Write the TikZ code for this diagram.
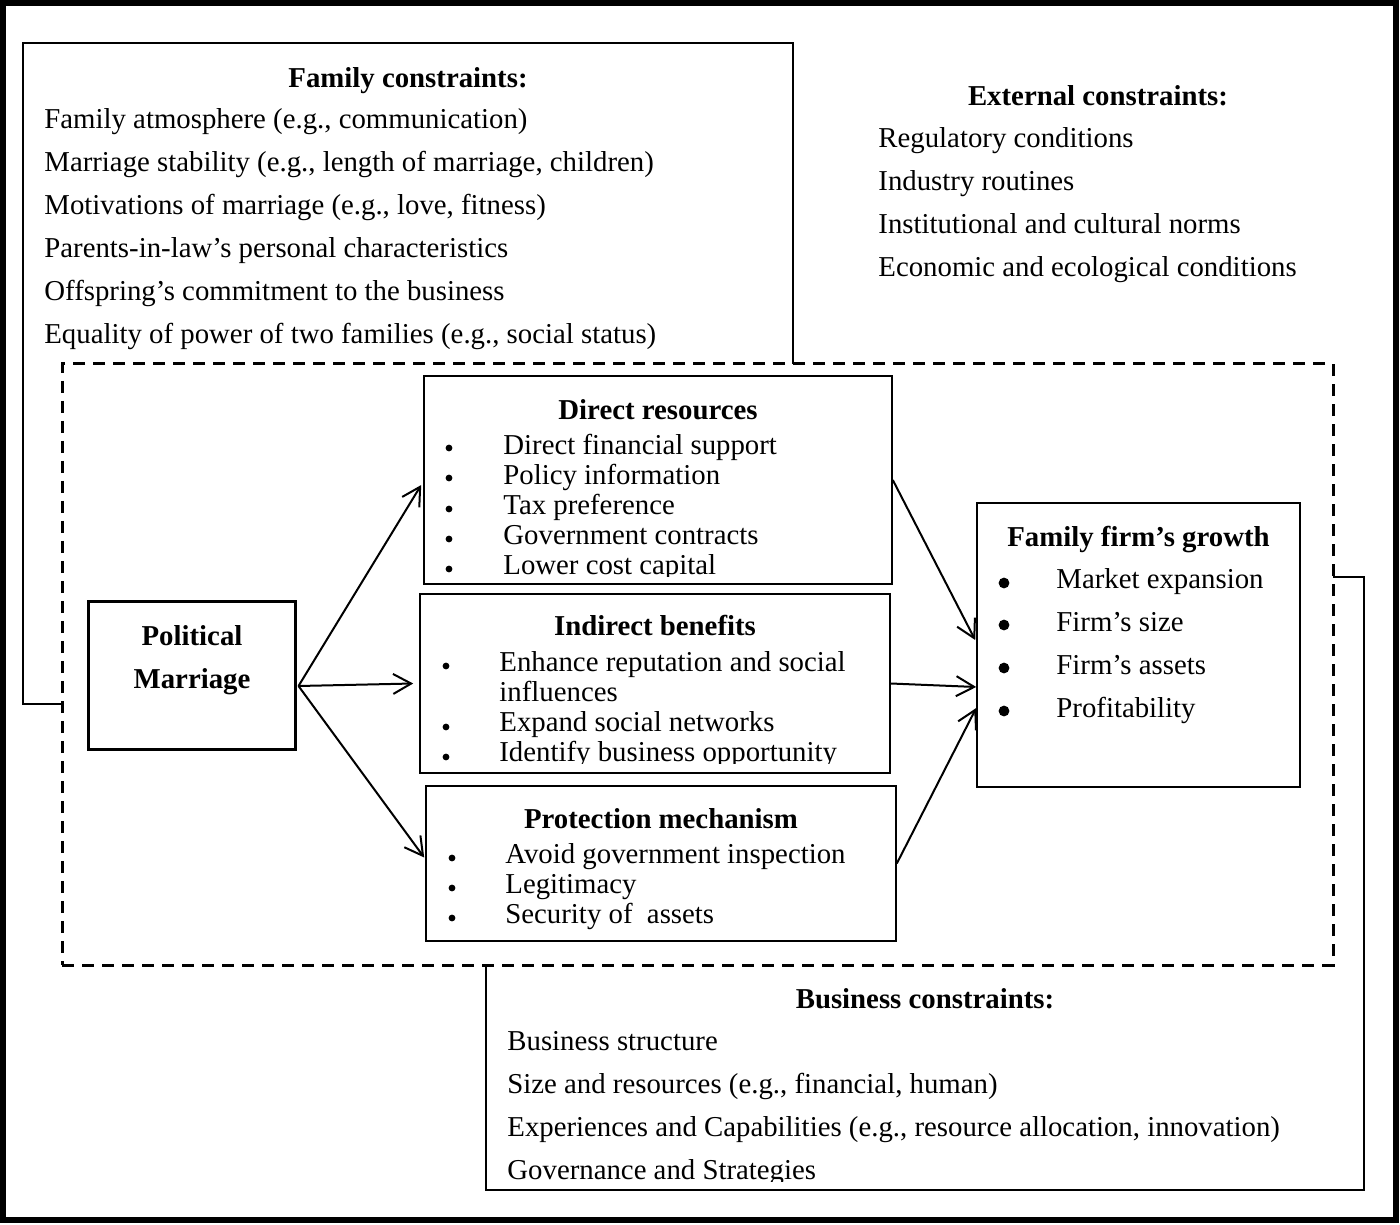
\documentclass[tikz,border=0pt]{standalone}
\usepackage{fontspec}
\setmainfont{Liberation Serif}
\usetikzlibrary{arrows.meta,calc}
\begin{document}
\begin{tikzpicture}[x=0.5pt,y=-0.5pt,
  txt/.style={inner sep=0pt, font=\fontsize{14.4pt}{15pt}\selectfont},
  ttl/.style={inner sep=0pt, font=\fontsize{14.4pt}{15pt}\selectfont\bfseries},
  thinbox/.style={draw, line width=0.8pt, rectangle, inner sep=0pt},
  arr/.style={line width=1pt, -{Straight Barb[length=9pt,width=10pt]}},
  bul/.style={circle, fill, inner sep=0pt, minimum size=3.4pt},
  bigbul/.style={circle, fill, inner sep=0pt, minimum size=5.4pt},
]
\useasboundingbox (0,0) rectangle (1400,1224);
\draw[line width=3pt] (3,3) rectangle (1396,1220);

% outer constraint boxes
\node[thinbox, minimum width=385pt, minimum height=330.5pt] (fam) at (408,373.5) {};
\node[thinbox, minimum width=439pt, minimum height=306.5pt] (bus) at (925,883.5) {};
% dashed frame
\node[draw, fill=white, line width=1.5pt, dash pattern=on 6pt off 4pt, rectangle, inner sep=0pt,
      minimum width=635.5pt, minimum height=300.5pt] (dash) at (697.5,664.5) {};

% Family constraints text
\node[ttl, anchor=base] (famt) at (408,88) {Family constraints:};
\node[txt, anchor=base west] (f1) at (44,129) {Family atmosphere (e.g., communication)};
\node[txt, anchor=base west] (f2) at (44,172) {Marriage stability (e.g., length of marriage, children)};
\node[txt, anchor=base west] (f3) at (44,215) {Motivations of marriage (e.g., love, fitness)};
\node[txt, anchor=base west] (f4) at (44,258) {Parents-in-law’s personal characteristics};
\node[txt, anchor=base west] (f5) at (44,301) {Offspring’s commitment to the business};
\node[txt, anchor=base west] (f6) at (44,344) {Equality of power of two families (e.g., social status)};

% External constraints
\node[ttl, anchor=base] (extt) at (1098,106) {External constraints:};
\node[txt, anchor=base west] (e1) at (878,148) {Regulatory conditions};
\node[txt, anchor=base west] (e2) at (878,191) {Industry routines};
\node[txt, anchor=base west] (e3) at (878,234) {Institutional and cultural norms};
\node[txt, anchor=base west] (e4) at (878,277) {Economic and ecological conditions};

% Business constraints
\node[ttl, anchor=base] (bust) at (925,1008) {Business constraints:};
\node[txt, anchor=base west] (u1) at (507,1050) {Business structure};
\node[txt, anchor=base west] (u2) at (507,1093) {Size and resources (e.g., financial, human)};
\node[txt, anchor=base west] (u3) at (507,1136) {Experiences and Capabilities (e.g., resource allocation, innovation)};
\begin{scope}
\clip (486,1150) rectangle (1364,1181);
\node[txt, anchor=base west] (u4) at (507,1179) {Governance and Strategies};
\end{scope}

% Political marriage
\node[draw, line width=1.5pt, rectangle, inner sep=0pt, minimum width=103.5pt, minimum height=74pt] (pm) at (191.5,675) {};
\node[ttl, anchor=base] (pm1) at (192,645) {Political};
\node[ttl, anchor=base] (pm2) at (192,688) {Marriage};

% Direct resources
\node[thinbox, minimum width=234pt, minimum height=104pt] (dr) at (658,480) {};
\node[ttl, anchor=base] (drt) at (658,419) {Direct resources};
\node[bul] (db1) at (449,448) {};
\node[bul] (db2) at (449,478) {};
\node[bul] (db3) at (449,509) {};
\node[bul] (db4) at (449,539) {};
\node[bul] (db5) at (449,569) {};
\node[txt, anchor=base west] (d1) at (503,454) {Direct financial support};
\node[txt, anchor=base west] (d2) at (503,484) {Policy information};
\node[txt, anchor=base west] (d3) at (503,514) {Tax preference};
\node[txt, anchor=base west] (d4) at (503,544) {Government contracts};
\begin{scope}
\clip (424,550) rectangle (892,576);
\node[txt, anchor=base west] (d5) at (503,574) {Lower cost capital};
\end{scope}

% Indirect benefits
\node[thinbox, minimum width=235pt, minimum height=89.5pt] (ib) at (655,683.5) {};
\node[ttl, anchor=base] (ibt) at (655,635) {Indirect benefits};
\node[bul] (ib1) at (446,666) {};
\node[bul] (ib2) at (446,727) {};
\node[bul] (ib3) at (446,757) {};
\node[txt, anchor=base west] (i1) at (499,671) {Enhance reputation and social};
\node[txt, anchor=base west] (i1b) at (499,701) {influences};
\node[txt, anchor=base west] (i2) at (499,731) {Expand social networks};
\begin{scope}
\clip (420,738) rectangle (890,763);
\node[txt, anchor=base west] (i3) at (499,761) {Identify business opportunity};
\end{scope}

% Protection mechanism
\node[thinbox, minimum width=235pt, minimum height=77.5pt] (pr) at (661,863.5) {};
\node[ttl, anchor=base] (prt) at (661,828) {Protection mechanism};
\node[bul] (pb1) at (452,858) {};
\node[bul] (pb2) at (452,888) {};
\node[bul] (pb3) at (452,918) {};
\node[txt, anchor=base west] (p1) at (505,863) {Avoid government inspection};
\node[txt, anchor=base west] (p2) at (505,893) {Legitimacy};
\node[txt, anchor=base west] (p3) at (505,923) {Security of\ \ assets};

% Family firm's growth
\node[thinbox, minimum width=161.5pt, minimum height=142pt] (ffg) at (1138.5,645) {};
\node[ttl, anchor=base] (ffgt) at (1138.5,546) {Family firm’s growth};
\node[bigbul] (gb1) at (1004,583) {};
\node[bigbul] (gb2) at (1004,625) {};
\node[bigbul] (gb3) at (1004,668) {};
\node[bigbul] (gb4) at (1004,711) {};
\node[txt, anchor=base west] (g1) at (1056,588) {Market expansion};
\node[txt, anchor=base west] (g2) at (1056,631) {Firm’s size};
\node[txt, anchor=base west] (g3) at (1056,674) {Firm’s assets};
\node[txt, anchor=base west] (g4) at (1056,717) {Profitability};

% arrows
\coordinate (src) at ($(pm.east)+(2,11)$);
\draw[arr] (src) -- ($(dr.west)+(-2,5)$);
\draw[arr] (src) -- ($(ib.west)+(-6,0)$);
\draw[arr] (src) -- ($(pr.west)+(-1,-6)$);
\draw[arr] (dr.east) -- ($(ffg.west)+(-1,-5)$);
\draw[arr] (ib.east) -- ($(ffg.west)+(0,42)$);
\draw[arr] (pr.east) -- ($(ffg.west)+(0,63)$);
\end{tikzpicture}
\end{document}
